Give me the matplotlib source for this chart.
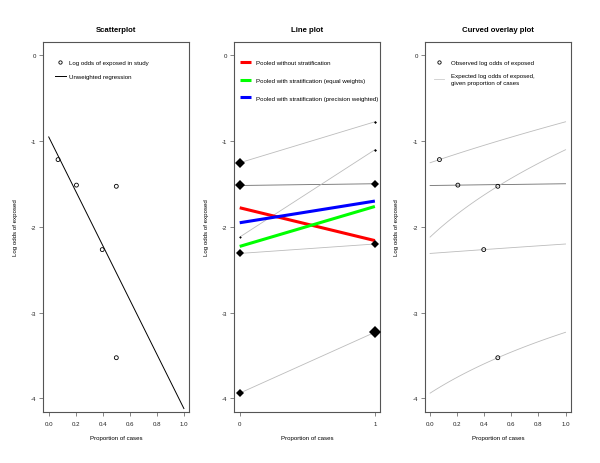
import numpy as np
import matplotlib
matplotlib.use("Agg")
import matplotlib.pyplot as plt
from matplotlib.lines import Line2D

plt.rcParams['font.family'] = ['Liberation Sans', 'DejaVu Sans']
plt.rcParams['axes.unicode_minus'] = False

# per-study data: proportion of cases, log odds of exposure in controls / cases
prop_cases = [0.069, 0.205, 0.50, 0.396, 0.50]
logodds_controls = [-1.252, -1.517, -2.119, -2.310, -3.940]
logodds_cases = [-0.774, -1.497, -1.100, -2.200, -3.230]
# marker sizes (study weight) at x=0 and x=1 in the line plot
weight_controls = [5.6, 5.6, 1.3, 3.6, 3.6]
weight_cases = [1.5, 4.4, 1.5, 3.8, 6.2]
line_grays = ['#bcbcbc', '#6e6e6e', '#bcbcbc', '#bcbcbc', '#bcbcbc']

# pooled estimates (value at controls, value at cases)
pooled_names = ['Pooled without stratification',
                'Pooled with stratification (equal weights)',
                'Pooled with stratification (precision weighted)']
pooled_start = [-1.777, -2.228, -1.952]
pooled_end = [-2.160, -1.762, -1.699]
pooled_colors = ['#ff0000', '#00ff00', '#0000ff']

y_ticks = [0, -1, -2, -3, -4]
prop_ticks = [0.0, 0.2, 0.4, 0.6, 0.8, 1.0]


def logit(p):
    return np.log(p / (1 - p))


def expit(x):
    return 1 / (1 + np.exp(-x))


def expected_logodds(p, lo0, lo1):
    return logit(p * expit(lo1) + (1 - p) * expit(lo0))


prop = np.array(prop_cases)
lo0 = np.array(logodds_controls)
lo1 = np.array(logodds_cases)
observed = expected_logodds(prop, lo0, lo1)

fig = plt.figure(figsize=(6, 4.64), dpi=100)
fs_lab = 4.4
fs_title = 5.6
spine_col = '#555555'


def style_axes(ax, title, xticks, xticklabels):
    ax.set_xlim(-0.04, 1.04)
    ax.set_ylim(-4.16, 0.16)
    ax.set_yticks(y_ticks)
    ax.set_yticklabels([str(t) for t in y_ticks])
    ax.set_xticks(xticks)
    ax.set_xticklabels(xticklabels)
    ax.tick_params(labelsize=fs_lab, length=3.2, width=0.5, color=spine_col,
                   labelcolor='#222222')
    ax.tick_params(axis='y', pad=1.8)
    ax.tick_params(axis='x', pad=3.0)
    for s in ax.spines.values():
        s.set_color(spine_col)
        s.set_linewidth(0.8)
    ax.set_title(title, fontsize=fs_title, fontweight='bold', pad=8)
    ax.set_xlabel('Proportion of cases', fontsize=fs_lab)
    ax.xaxis.set_label_coords(0.5, -0.061)
    ax.set_ylabel('Log odds of exposed', fontsize=fs_lab)
    ax.yaxis.set_label_coords(-0.173, 0.5)


# ---- Scatterplot
ax1 = fig.add_axes([0.0722, 0.1099, 0.2433, 0.798])
ax1.scatter(prop, observed, s=8, facecolors='none', edgecolors='black',
            linewidths=0.6, zorder=3)
slope, intercept = np.polyfit(prop, observed, 1)
xs = np.array([0.0, 1.0])
ax1.plot(xs, intercept + slope * xs, color='black', lw=0.7)
style_axes(ax1, 'Scatterplot', prop_ticks, ['%.1f' % t for t in prop_ticks])
h1 = [Line2D([], [], ls='none', marker='o', mfc='none', mec='black', ms=2.4, mew=0.6),
      Line2D([], [], color='black', lw=0.7)]
ax1.legend(h1, ['Log odds of exposed in study', 'Unweighted regression'],
           loc='upper left', bbox_to_anchor=(0.06, 0.958), frameon=False,
           fontsize=fs_lab, handlelength=1.8, handletextpad=0.6,
           labelspacing=1.45, borderaxespad=0)

# ---- Line plot
ax2 = fig.add_axes([0.3905, 0.1099, 0.2433, 0.798])
for i in range(len(prop_cases)):
    ax2.plot([0, 1], [lo0[i], lo1[i]], color=line_grays[i], lw=0.6, zorder=2)
    ax2.plot([0], [lo0[i]], marker='D', color='black', ms=weight_controls[i],
             mew=0, zorder=4)
    ax2.plot([1], [lo1[i]], marker='D', color='black', ms=weight_cases[i],
             mew=0, zorder=4)
for name, a, b, c in zip(pooled_names, pooled_start, pooled_end, pooled_colors):
    ax2.plot([0, 1], [a, b], color=c, lw=2.2, label=name, zorder=3,
             solid_capstyle='butt')
style_axes(ax2, 'Line plot', [0, 1], ['0', '1'])
ax2.legend(loc='upper left', bbox_to_anchor=(0.02, 0.958), frameon=False,
           fontsize=fs_lab, handlelength=1.8, handletextpad=0.9,
           labelspacing=2.05, borderaxespad=0)

# ---- Curved overlay plot
ax3 = fig.add_axes([0.7078, 0.1099, 0.2438, 0.798])
grid = np.linspace(0, 1, 101)
for i in range(len(prop_cases)):
    ax3.plot(grid, expected_logodds(grid, lo0[i], lo1[i]), color=line_grays[i],
             lw=0.6, zorder=2)
ax3.scatter(prop, observed, s=8, facecolors='none', edgecolors='black',
            linewidths=0.6, zorder=3)
style_axes(ax3, 'Curved overlay plot', prop_ticks, ['%.1f' % t for t in prop_ticks])
h3 = [Line2D([], [], ls='none', marker='o', mfc='none', mec='black', ms=2.4, mew=0.6),
      Line2D([], [], color='#cccccc', lw=0.6)]
leg3 = ax3.legend(h3, ['Observed log odds of exposed',
                       'Expected log odds of exposed,\ngiven proportion of cases'],
                  loc='upper left', bbox_to_anchor=(0.05, 0.958), frameon=False,
                  fontsize=fs_lab, handlelength=1.5, handletextpad=1.2,
                  labelspacing=1.3, borderaxespad=0)
for t in leg3.get_texts():
    t.set_linespacing(1.6)

fig.savefig('out.png', dpi=100)
